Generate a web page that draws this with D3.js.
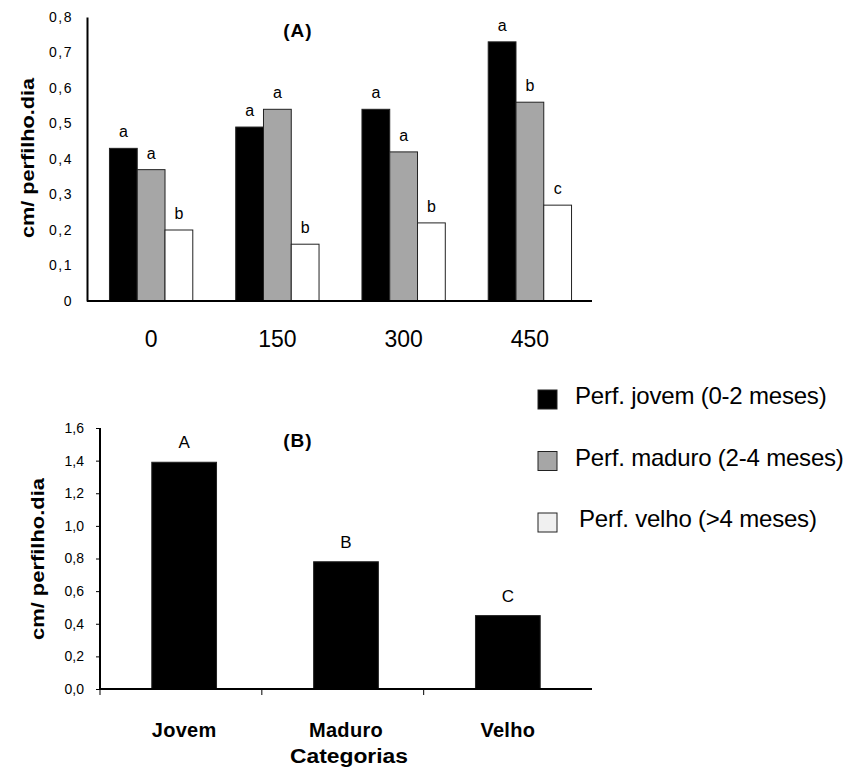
<!DOCTYPE html>
<html>
<head>
<meta charset="utf-8">
<script src="https://cdn.jsdelivr.net/npm/d3@7"></script>
<style>
  body { margin: 0; background: #fff; }
  svg { font-family: "Liberation Sans", Arial, sans-serif; }
</style>
</head>
<body>
<svg id="chart" width="856" height="780"></svg>
<script>
// panel A data
const doses = ['0', '150', '300', '450'];
const seriesNames = ['Perf. jovem (0-2 meses)', 'Perf. maduro (2-4 meses)', 'Perf. velho (>4 meses)'];
const jovemA = [0.43, 0.49, 0.54, 0.73];
const maduroA = [0.37, 0.54, 0.42, 0.56];
const velhoA = [0.20, 0.16, 0.22, 0.27];
const lettersA = [['a', 'a', 'b'], ['a', 'a', 'b'], ['a', 'a', 'b'], ['a', 'b', 'c']];
const ticksA = [0, 0.1, 0.2, 0.3, 0.4, 0.5, 0.6, 0.7, 0.8];

// panel B data
const categorias = ['Jovem', 'Maduro', 'Velho'];
const valoresB = [1.39, 0.78, 0.45];
const lettersB = ['A', 'B', 'C'];
const ticksB = [0, 0.2, 0.4, 0.6, 0.8, 1.0, 1.2, 1.4, 1.6];

const fills = ['#000000', '#a6a6a6', '#ffffff'];
const legendFills = ['#000000', '#a6a6a6', '#f0f0f0'];

const svg = d3.select('#chart');
const fmt = d => d3.format('.1f')(d).replace('.', ',');
const FONT = '"Liberation Sans", Arial, sans-serif';

// ---------- panel A ----------
const aLeft = 87, aRight = 592, aTop = 17, aBottom = 301;

const yA = d3.scaleLinear().domain([0, 0.8]).range([aBottom, aTop]);
const x0 = d3.scaleBand().domain(doses).range([aLeft + 1, aRight + 1]).paddingInner(0.34).paddingOuter(0.17);
const x1 = d3.scaleBand().domain(d3.range(3)).range([0, x0.bandwidth()]);

const rowsA = doses.map((d, i) => ({
    dose: d,
    values: [jovemA[i], maduroA[i], velhoA[i]].map((v, s) => ({ s, v, letter: lettersA[i][s] }))
}));

const gA = svg.append('g');

const groups = gA.selectAll('g.grp')
    .data(rowsA)
    .join('g')
    .attr('class', 'grp')
    .attr('transform', d => `translate(${x0(d.dose)},0)`);

groups.selectAll('rect')
    .data(d => d.values)
    .join('rect')
    .attr('x', d => x1(d.s))
    .attr('y', d => yA(d.v))
    .attr('width', x1.bandwidth())
    .attr('height', d => yA(0) - yA(d.v))
    .attr('fill', d => fills[d.s])
    .attr('stroke', '#222')
    .attr('stroke-width', 1);

groups.selectAll('text')
    .data(d => d.values)
    .join('text')
    .attr('x', d => x1(d.s) + x1.bandwidth() / 2)
    .attr('y', d => yA(d.v) - 11)
    .attr('text-anchor', 'middle')
    .style('font-size', '16px')
    .text(d => d.letter);

// y axis A (no tick marks)
const yAxisA = gA.append('g')
    .attr('transform', `translate(${aLeft},0)`)
    .call(d3.axisLeft(yA).tickValues(ticksA).tickSize(0).tickPadding(14)
        .tickFormat(d => d === 0 ? '0' : fmt(d)));
yAxisA.select('.domain').attr('stroke', '#000').attr('stroke-width', 2);
yAxisA.selectAll('text')
    .style('font-size', '14px').style('font-family', FONT).style('letter-spacing', '1.5px')
    .attr('fill', '#000');

// x axis A
const xAxisA = gA.append('g')
    .attr('transform', `translate(0,${aBottom})`)
    .call(d3.axisBottom(x0).tickSize(0).tickPadding(30));
xAxisA.select('.domain').attr('d', `M${aLeft},0H${aRight}`).attr('stroke', '#000').attr('stroke-width', 2);
xAxisA.selectAll('text').style('font-size', '23px').style('font-family', FONT).attr('fill', '#000');

gA.append('text')
    .attr('x', 298).attr('y', 37)
    .attr('text-anchor', 'middle')
    .style('font-size', '19px').style('font-weight', 'bold').style('letter-spacing', '1px')
    .text('(A)');

gA.append('text')
    .attr('transform', `translate(34,158) rotate(-90)`)
    .attr('text-anchor', 'middle')
    .attr('textLength', 160).attr('lengthAdjust', 'spacingAndGlyphs')
    .style('font-size', '19px').style('font-weight', 'bold')
    .text('cm/ perfilho.dia');

// ---------- panel B ----------
const bLeft = 100, bRight = 592, bTop = 428, bBottom = 689;

const yB = d3.scaleLinear().domain([0, 1.6]).range([bBottom, bTop]);
const xB = d3.scaleBand().domain(categorias).range([bLeft, bRight]).paddingInner(0.6).paddingOuter(0.32);

const gB = svg.append('g');

gB.selectAll('rect')
    .data(categorias)
    .join('rect')
    .attr('x', d => xB(d))
    .attr('y', (d, i) => yB(valoresB[i]))
    .attr('width', xB.bandwidth())
    .attr('height', (d, i) => yB(0) - yB(valoresB[i]))
    .attr('fill', '#000')
    .attr('stroke', '#222');

gB.selectAll('text.lbl')
    .data(categorias)
    .join('text')
    .attr('class', 'lbl')
    .attr('x', d => xB(d) + xB.bandwidth() / 2)
    .attr('y', (d, i) => yB(valoresB[i]) - 14)
    .attr('text-anchor', 'middle')
    .style('font-size', '17px')
    .text((d, i) => lettersB[i]);

const yAxisB = gB.append('g')
    .attr('transform', `translate(${bLeft},0)`)
    .call(d3.axisLeft(yB).tickValues(ticksB).tickSize(4).tickPadding(12).tickFormat(fmt));
yAxisB.select('.domain').attr('d', `M0,${bTop}V${bBottom}`).attr('stroke', '#000').attr('stroke-width', 2);
yAxisB.selectAll('line').attr('stroke', '#000');
yAxisB.selectAll('text').style('font-size', '14px').style('font-family', FONT).attr('fill', '#000');

// x axis B: boundary ticks between categories
const step = xB.step();
const firstStart = xB(categorias[0]) - xB.paddingOuter() * step;
const boundaries = d3.range(categorias.length).map(i => firstStart + i * step);
const xAxisB = gB.append('g').attr('transform', `translate(0,${bBottom})`);
xAxisB.append('path').attr('d', `M${bLeft},0H${bRight}`).attr('stroke', '#000').attr('stroke-width', 2);
xAxisB.selectAll('line')
    .data(boundaries)
    .join('line')
    .attr('x1', d => d).attr('x2', d => d)
    .attr('y1', 0).attr('y2', 6)
    .attr('stroke', '#000');
xAxisB.selectAll('text')
    .data(categorias)
    .join('text')
    .attr('x', d => xB(d) + xB.bandwidth() / 2)
    .attr('y', 48)
    .attr('text-anchor', 'middle')
    .style('font-size', '20px').style('font-weight', 'bold').style('letter-spacing', '0.3px')
    .text(d => d);

gB.append('text')
    .attr('x', 349).attr('y', 763)
    .attr('text-anchor', 'middle')
    .attr('textLength', 118).attr('lengthAdjust', 'spacingAndGlyphs')
    .style('font-size', '20px').style('font-weight', 'bold')
    .text('Categorias');

gB.append('text')
    .attr('x', 298).attr('y', 447)
    .attr('text-anchor', 'middle')
    .style('font-size', '19px').style('font-weight', 'bold').style('letter-spacing', '1px')
    .text('(B)');

gB.append('text')
    .attr('transform', `translate(44,559) rotate(-90)`)
    .attr('text-anchor', 'middle')
    .attr('textLength', 162).attr('lengthAdjust', 'spacingAndGlyphs')
    .style('font-size', '19px').style('font-weight', 'bold')
    .text('cm/ perfilho.dia');

// ---------- legend ----------
const legend = svg.append('g').attr('transform', 'translate(538,390)');
const rows = legend.selectAll('g')
    .data(seriesNames)
    .join('g')
    .attr('transform', (d, i) => `translate(0,${i * 61.5})`);
rows.append('rect')
    .attr('width', 19).attr('height', 19)
    .attr('fill', (d, i) => legendFills[i])
    .attr('stroke', '#222');
rows.append('text')
    .attr('x', (d, i) => i === 2 ? 41 : 37)
    .attr('y', 14)
    .style('font-size', '24px').style('letter-spacing', '-0.2px')
    .text(d => d);
</script>
</body>
</html>
